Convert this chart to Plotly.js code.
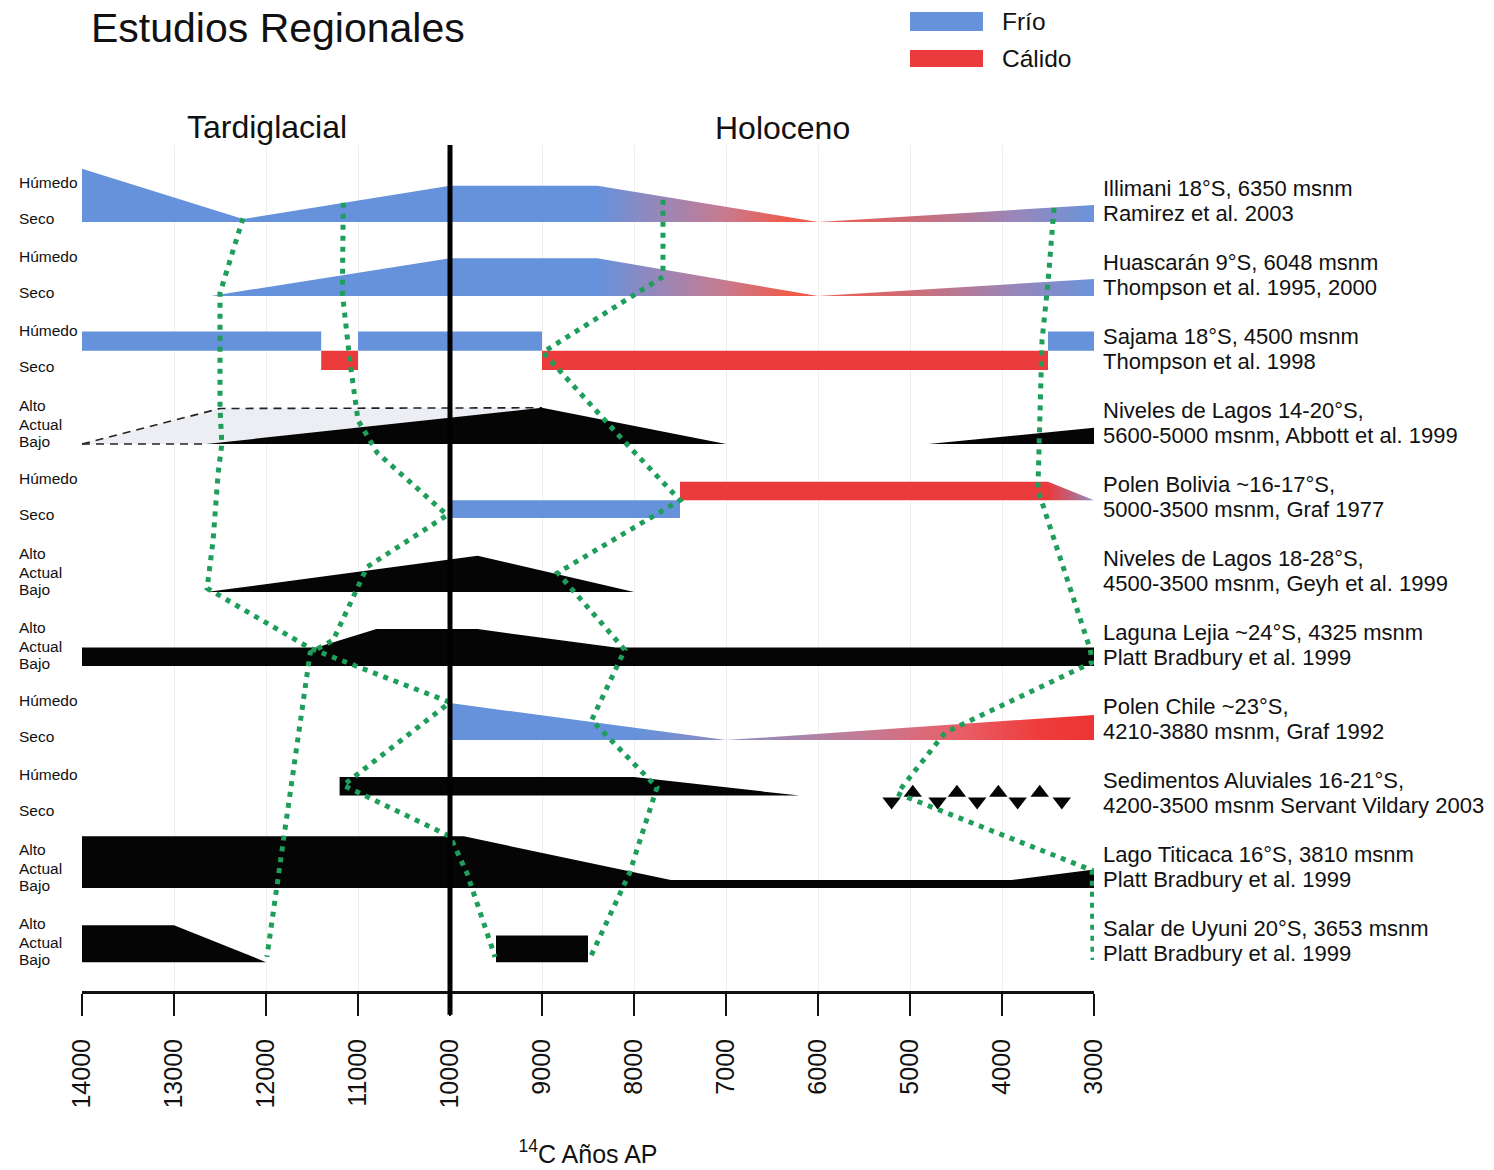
<!DOCTYPE html>
<html><head><meta charset="utf-8">
<script src="https://cdn.plot.ly/plotly-3.0.1.min.js"></script>
<style>html,body{margin:0;padding:0;background:#fff}</style>
</head><body><div id="chart" style="width:1494px;height:1170px"></div>
<script>
// ================= DATA =================
const tickYears = [14000,13000,12000,11000,10000,9000,8000,7000,6000,5000,4000,3000];
const tickLabels = ['14000','13000','12000','11000','10000','9000','8000','7000','6000','5000','4000','3000'];
const boundaryYear = 10000; // Tardiglacial / Holoceno

const siteNames = [
  'Illimani 18°S, 6350 msnm','Huascarán 9°S, 6048 msnm','Sajama 18°S, 4500 msnm',
  'Niveles de Lagos 14-20°S,','Polen Bolivia ~16-17°S,','Niveles de Lagos 18-28°S,',
  'Laguna Lejia ~24°S, 4325 msnm','Polen Chile ~23°S,','Sedimentos Aluviales 16-21°S,',
  'Lago Titicaca 16°S, 3810 msnm','Salar de Uyuni 20°S, 3653 msnm'];
const siteRefs = [
  'Ramirez et al. 2003','Thompson et al. 1995, 2000','Thompson et al. 1998',
  '5600-5000 msnm, Abbott et al. 1999','5000-3500 msnm, Graf 1977','4500-3500 msnm, Geyh et al. 1999',
  'Platt Bradbury et al. 1999','4210-3880 msnm, Graf 1992','4200-3500 msnm Servant Vildary 2003',
  'Platt Bradbury et al. 1999','Platt Bradbury et al. 1999'];
const siteScale = ['HS','HS','HS','AAB','HS','AAB','AAB','HS','HS','AAB','AAB'];
const scaleHSLabels = ['Húmedo','Seco'];
const scaleHSLevels = [0.54, 0.05];
const scaleAABLabels = ['Alto','Actual','Bajo'];
const scaleAABLevels = [0.52, 0.27, 0.03];

// Row 0 Illimani
const illimaniYears = [14000, 12250, 10000, 8400, 6000, 3000];
const illimaniLevel = [0.72, 0.04, 0.49, 0.49, 0.0, 0.23];
// Row 1 Huascarán
const huascaranYears = [12600, 10000, 8400, 6000, 3000];
const huascaranLevel = [0.0, 0.51, 0.51, 0.0, 0.23];
// Row 2 Sajama: F = frío/húmedo, C = cálido/seco
const sajamaYears = [14000, 11400, 11000, 9000, 3500, 3000];
const sajamaStates = ['F','C','F','C','F'];
// Row 3 Niveles de Lagos 14-20°S
const lagosA_envYears = [14000, 12500, 9000];
const lagosA_envLevel = [0.0, 0.48, 0.49];
const lagosA_years1 = [12650, 9000, 7000];
const lagosA_level1 = [0.0, 0.49, 0.0];
const lagosA_years2 = [4800, 3000];
const lagosA_level2 = [0.0, 0.22];
// Row 4 Polen Bolivia
const polenBolFrioYears = [10000, 7500];
const polenBolCalidoYears = [7500, 3500];
const polenBolTaperYears = [3500, 3000];
const polenBolTaperLevel = [0.49, 0.24];
// Row 5 Niveles de Lagos 18-28°S
const lagosB_years = [12650, 9700, 8000];
const lagosB_level = [0.0, 0.49, 0.0];
// Row 6 Laguna Lejia
const lejiaYears = [14000, 11450, 10800, 9700, 8200, 3000];
const lejiaLevel = [0.25, 0.25, 0.5, 0.5, 0.25, 0.25];
// Row 7 Polen Chile
const polenChYears = [10000, 7000, 3000];
const polenChLevel = [0.5, 0.0, 0.34];
// Row 8 Sedimentos Aluviales
const sedYears = [11200, 8000, 6200];
const sedLevel = [0.5, 0.5, 0.25];
const sedFloor = 0.25;
const sedUpYears = [4970, 4490, 4040, 3590];
const sedDownYears = [5200, 4700, 4270, 3830, 3350];
const sedUpLevel = 0.29, sedDownLevel = 0.17;
// Row 9 Lago Titicaca
const titicacaYears = [14000, 9850, 7600, 3900, 3000];
const titicacaLevel = [0.70, 0.70, 0.11, 0.11, 0.25];
// Row 10 Salar de Uyuni
const uyuniYears = [14000, 13000, 12000];
const uyuniLevel = [0.5, 0.5, 0.0];
const uyuniBlockYears = [9500, 8500];
const uyuniBlockLevel = 0.36;

// correlation lines: [year, row, level]
const corrA = [[12250,0,0.05],[12500,1,0.04],[12500,2,0.14],[12500,3,0.5],[12480,3,0.0],[12520,4,0.61],
  [12575,5,0.70],[12640,5,0.05],[11520,6,0.24],[10000,7,0.51],[11160,8,0.39],[10000,9,0.70],[9815,9,0.2],[9510,10,0.07]];
const corrB = [[11160,0,0.26],[11170,1,0.04],[11090,2,0.14],[11000,3,0.32],[10790,4,0.88],[10030,4,0.04],
  [10900,5,0.34],[11270,6,0.35],[11520,6,0.18],[11660,7,0.0],[11810,9,0.65],[11990,10,0.07]];
const corrC = [[7685,0,0.3],[7685,1,0.26],[8990,2,0.24],[8080,3,0.0],[7500,4,0.24],[8830,5,0.26],
  [8100,6,0.22],[8460,7,0.27],[7750,8,0.36],[8050,9,0.2],[8480,10,0.05]];
const corrD = [[3435,0,0.19],[3500,1,0.18],[3565,2,0.4],[3590,3,0.05],[3610,4,0.38],[3040,6,0.22],
  [3020,6,0.05],[4620,7,0.1],[5140,8,0.28],[3020,9,0.24],[3010,10,0.03]];

// ================= STYLE =================
const BLUE = '#6592db', RED = '#ea3a3c', BLACK = '#050505', GREEN = '#1e9e5a', LIGHT = '#eceef4';
const FONT = 'Liberation Sans, Arial, sans-serif';
const iceStops = [[14000,BLUE],[8400,BLUE],[7700,'#9a86b8'],[7000,'#c97a8e'],[6300,'#f05a48'],[6000,'#ee5a4e'],[4800,'#c8707f'],[3900,'#9a86b8'],[3000,'#6b93db']];
const chileStops = [[14000,BLUE],[8000,BLUE],[7000,'#8c8cc4'],[5600,'#c07e98'],[4500,'#e8606a'],[3600,'#ee3c3c'],[3000,'#ee3434']];
const bolTaperStops = [[14000,RED],[3500,RED],[3250,'#c0607a'],[3000,'#8a90c8']];

// ================= BUILD =================
const X0 = 14000, X1 = 3000;
function grad(stops){
  return {type:'horizontal', start:X0, stop:X1,
    colorscale: stops.map(s => [(X0 - s[0])/(X0 - X1), s[1]])};
}
function profile(row, yrs, lv, floor, color, gradient){
  const f = floor || 0;
  const x = yrs.concat([yrs[yrs.length-1], yrs[0], yrs[0]]);
  const y = lv.map(v => -row + v).concat([-row + f, -row + f, -row + lv[0]]);
  const t = {type:'scatter', mode:'lines', x, y, fill:'toself', line:{width:0, color:color},
    fillcolor: color, hoverinfo:'skip', showlegend:false};
  if (gradient) t.fillgradient = grad(gradient);
  return t;
}
function rect(row, yA, yB, l0, l1, color){
  return {type:'scatter', mode:'lines', x:[yA,yB,yB,yA,yA], y:[-row+l0,-row+l0,-row+l1,-row+l1,-row+l0],
    fill:'toself', fillcolor:color, line:{width:0,color:color}, hoverinfo:'skip', showlegend:false};
}
const traces = [];
traces.push(profile(0, illimaniYears, illimaniLevel, 0, BLUE, iceStops));
traces.push(profile(1, huascaranYears, huascaranLevel, 0, BLUE, iceStops));
for (let i = 0; i < sajamaStates.length; i++) {
  const fr = sajamaStates[i] === 'F';
  traces.push(rect(2, sajamaYears[i], sajamaYears[i+1], fr ? 0.26 : 0.0, fr ? 0.52 : 0.26, fr ? BLUE : RED));
}
traces.push(profile(3, lagosA_envYears, lagosA_envLevel, 0, LIGHT));
traces.push({type:'scatter', mode:'lines', x:lagosA_envYears, y:lagosA_envLevel.map(v=>-3+v),
  line:{color:'#222', width:1.6, dash:'8px,6px'}, hoverinfo:'skip', showlegend:false});
traces.push({type:'scatter', mode:'lines', x:[lagosA_envYears[0], lagosA_years1[0]], y:[-3,-3],
  line:{color:'#222', width:1.6, dash:'8px,6px'}, hoverinfo:'skip', showlegend:false});
traces.push(profile(3, lagosA_years1, lagosA_level1, 0, BLACK));
traces.push(profile(3, lagosA_years2, lagosA_level2, 0, BLACK));
traces.push(rect(4, polenBolFrioYears[0], polenBolFrioYears[1], 0, 0.24, BLUE));
traces.push(rect(4, polenBolCalidoYears[0], polenBolCalidoYears[1], 0.24, 0.49, RED));
traces.push(profile(4, polenBolTaperYears, polenBolTaperLevel, 0.24, RED, bolTaperStops));
traces.push(profile(5, lagosB_years, lagosB_level, 0, BLACK));
traces.push(profile(6, lejiaYears, lejiaLevel, 0, BLACK));
traces.push(profile(7, polenChYears, polenChLevel, 0, BLUE, chileStops));
traces.push(profile(8, sedYears, sedLevel, sedFloor, BLACK));
traces.push({type:'scatter', mode:'markers', x:sedUpYears, y:sedUpYears.map(()=>-8+sedUpLevel),
  marker:{symbol:'triangle-up', size:16, color:BLACK}, hoverinfo:'skip', showlegend:false, cliponaxis:false});
traces.push({type:'scatter', mode:'markers', x:sedDownYears, y:sedDownYears.map(()=>-8+sedDownLevel),
  marker:{symbol:'triangle-down', size:16, color:BLACK}, hoverinfo:'skip', showlegend:false, cliponaxis:false});
traces.push(profile(9, titicacaYears, titicacaLevel, 0, BLACK));
traces.push(profile(10, uyuniYears, uyuniLevel, 0, BLACK));
traces.push(rect(10, uyuniBlockYears[0], uyuniBlockYears[1], 0, uyuniBlockLevel, BLACK));
[corrA, corrB, corrC, corrD].forEach(c => {
  traces.push({type:'scatter', mode:'lines', x:c.map(p=>p[0]), y:c.map(p=>-p[1]+p[2]),
    line:{color:GREEN, width:5, dash:'5px,6px'}, hoverinfo:'skip', showlegend:false});
});

// annotations
const ann = [];
siteScale.forEach((s, row) => {
  const labs = s === 'HS' ? scaleHSLabels : scaleAABLabels;
  const lvls = s === 'HS' ? scaleHSLevels : scaleAABLevels;
  labs.forEach((t, j) => ann.push({xref:'paper', x:0, xshift:-65, xanchor:'left', yref:'y', y:-row+lvls[j],
    yanchor:'middle', text:t, showarrow:false, font:{family:FONT, size:15.5, color:'#111'}}));
  ann.push({xref:'paper', x:1, xshift:7, xanchor:'left', align:'left', yref:'y', y:-row+0.45, yanchor:'middle',
    text: siteNames[row], showarrow:false, font:{family:FONT, size:22, color:'#111'}});
  ann.push({xref:'paper', x:1, xshift:7, xanchor:'left', align:'left', yref:'y', y:-row+0.11, yanchor:'middle',
    text: siteRefs[row], showarrow:false, font:{family:FONT, size:22, color:'#111'}});
});
ann.push({xref:'paper', yref:'paper', x:0.0109, xshift:-4, y:1.1383, xanchor:'left', yanchor:'middle', text:'Estudios Regionales',
  showarrow:false, font:{family:FONT, size:41, color:'#111'}});
ann.push({xref:'paper', yref:'paper', x:0.1828, y:1.0213, xanchor:'center', yanchor:'middle', text:'Tardiglacial',
  showarrow:false, font:{family:FONT, size:32, color:'#111'}});
ann.push({xref:'paper', yref:'paper', x:0.6917, y:1.0201, xanchor:'center', yanchor:'middle', text:'Holoceno',
  showarrow:false, font:{family:FONT, size:32, color:'#111'}});
ann.push({xref:'paper', yref:'paper', x:0.9101, xshift:-3, y:1.1454, xanchor:'left', yanchor:'middle', text:'Frío',
  showarrow:false, font:{family:FONT, size:24.5, color:'#111'}});
ann.push({xref:'paper', yref:'paper', x:0.9101, xshift:-3, y:1.1017, xanchor:'left', yanchor:'middle', text:'Cálido',
  showarrow:false, font:{family:FONT, size:24.5, color:'#111'}});

const shapes = [
  {type:'line', xref:'x', yref:'paper', x0:boundaryYear, x1:boundaryYear, y0:-0.028, y1:1, line:{color:'#000', width:5}},
  {type:'rect', xref:'paper', yref:'paper', x0:0.8182, x1:0.8903, y0:1.1348, y1:1.1572, fillcolor:BLUE, line:{width:0}},
  {type:'rect', xref:'paper', yref:'paper', x0:0.8182, x1:0.8903, y0:1.0922, y1:1.1123, fillcolor:RED, line:{width:0}}
];

const layout = {
  width:1494, height:1170, margin:{l:82, r:400, t:145, b:179},
  paper_bgcolor:'#fff', plot_bgcolor:'#fff', showlegend:false,
  font:{family:FONT, color:'#111'},
  xaxis:{range:[X0, X1], tickvals:tickYears, ticktext:tickLabels, ticks:'outside', ticklen:22, tickwidth:2,
    tickcolor:'#111', showline:true, linewidth:3, linecolor:'#111', tickangle:-90, ticklabelstandoff:13,
    tickfont:{family:FONT, size:25, color:'#111'}, showgrid:true, gridcolor:'#efefef', zeroline:false,
    automargin:false,
    title:{text:'<sup>14</sup>C Años AP', font:{family:'Liberation Sans Narrow, '+FONT, size:25, color:'#111'}, standoff:38}},
  yaxis:{range:[-10.39, 1.04], visible:false, fixedrange:true},
  annotations:ann, shapes:shapes
};
Plotly.newPlot('chart', traces, layout, {staticPlot:true});
</script></body></html>
